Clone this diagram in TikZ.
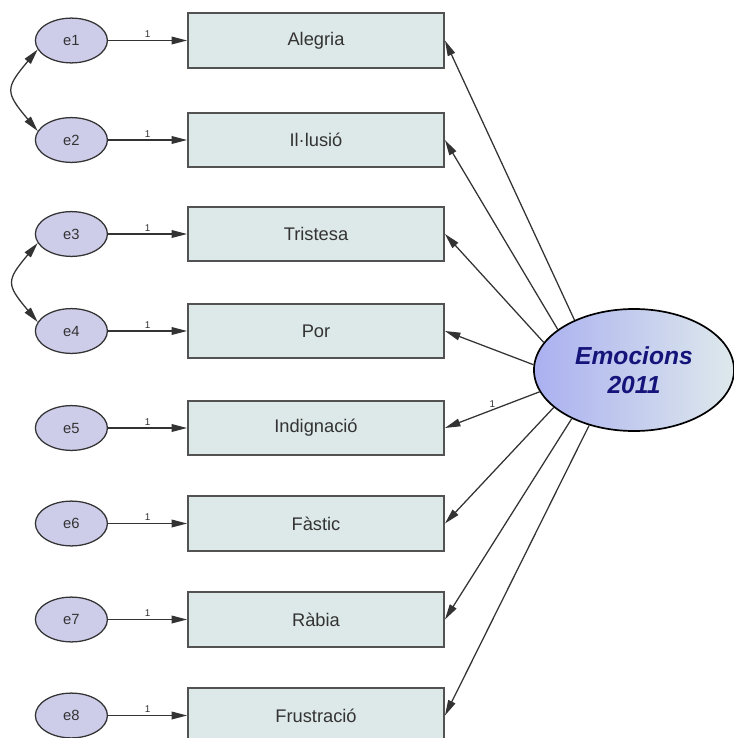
\documentclass[tikz,border=0pt]{standalone}
\usepackage{fontspec}
\setmainfont{Liberation Sans}
\usepackage{tikz}
\usetikzlibrary{arrows.meta,shapes.geometric,positioning}
\usepackage{xcolor}
\definecolor{boxfill}{HTML}{DDE8E8}
\definecolor{errfill}{HTML}{CDCDEA}
\definecolor{latleft}{HTML}{AAB0F0}
\definecolor{latright}{HTML}{DEE9EC}
\definecolor{latext}{HTML}{14147A}
\definecolor{edge}{HTML}{333333}

\begin{document}
\begin{tikzpicture}[x=0.025cm, y=-0.025cm,
    >={Triangle[length=11pt,width=5.5pt]},
    errvar/.style={ellipse, draw=edge, line width=0.9pt, fill=errfill, minimum width=1.8cm, minimum height=1.12cm, inner sep=0pt, text=edge, font=\fontsize{10.5}{12}\selectfont},
    obsbox/.style={rectangle, draw=edge!85, line width=1.3pt, fill=boxfill, minimum width=6.4cm, minimum height=1.36cm, text=edge, font=\fontsize{13}{15}\selectfont},
    latent/.style={ellipse, draw=black, line width=1.2pt, left color=latleft, right color=latright, minimum width=5cm, minimum height=3.05cm, inner sep=0pt, align=center, text=latext, font=\fontsize{17.5}{21}\selectfont\bfseries\itshape},
    errarrow/.style={->, draw=edge, line width=0.9pt},
    loadarrow/.style={->, draw=edge, line width=0.9pt},
    one/.style={font=\fontsize{7}{8}\selectfont, text=edge, inner sep=1.5pt}
]
    \useasboundingbox (0,0) rectangle (734,738);
    \clip (0,0) rectangle (734,738);

    % Observed variables
    \node[obsbox] (alegria) at (316, 40.5) {Alegria};
    \node[obsbox] (illusio) at (316, 140) {Il·lusió};
    \node[obsbox] (tristesa) at (316, 234) {Tristesa};
    \node[obsbox] (por) at (316, 331) {Por};
    \node[obsbox] (indignacio) at (316, 428) {Indignació};
    \node[obsbox] (fastic) at (316, 523.5) {Fàstic};
    \node[obsbox] (rabia) at (316, 619.5) {Ràbia};
    \node[obsbox] (frustracio) at (316, 715.5) {Frustració};

    % Error terms
    \node[errvar, left=1.975cm of alegria] (e1) {e1};
    \node[errvar, left=1.975cm of illusio] (e2) {e2};
    \node[errvar, left=1.975cm of tristesa] (e3) {e3};
    \node[errvar, left=1.975cm of por] (e4) {e4};
    \node[errvar, left=1.975cm of indignacio] (e5) {e5};
    \node[errvar, left=1.975cm of fastic] (e6) {e6};
    \node[errvar, left=1.975cm of rabia] (e7) {e7};
    \node[errvar, left=1.975cm of frustracio] (e8) {e8};

    \draw[errarrow] (e1) -- node[one, above] {1} (alegria);
    \draw[errarrow] (e2) -- node[one, above] {1} (illusio);
    \draw[errarrow] (e3) -- node[one, above] {1} (tristesa);
    \draw[errarrow] (e4) -- node[one, above] {1} (por);
    \draw[errarrow] (e5) -- node[one, above] {1} (indignacio);
    \draw[errarrow] (e6) -- node[one, above] {1} (fastic);
    \draw[errarrow] (e7) -- node[one, above] {1} (rabia);
    \draw[errarrow] (e8) -- node[one, above] {1} (frustracio);

    % Covariances
    \draw[<->, draw=edge, line width=0.9pt] (e1.195) to[out=230, in=130, looseness=1.6] (e2.165);
    \draw[<->, draw=edge, line width=0.9pt] (e3.195) to[out=230, in=130, looseness=1.6] (e4.165);

    % Latent factor
    \node[latent] (emocions) at (634, 370) {Emocions\\2011};

    \draw[loadarrow] (emocions.140) -- (alegria.east);
    \draw[loadarrow] (emocions.152) -- (illusio.east);
    \draw[loadarrow] (emocions.163.5) -- (tristesa.east);
    \draw[loadarrow] (emocions.177.7) -- (por.east);
    \draw[loadarrow] (emocions.193) -- node[one, above] {1} (indignacio.east);
    \draw[loadarrow] (emocions.205.7) -- (fastic.east);
    \draw[loadarrow] (emocions.218) -- (rabia.east);
    \draw[loadarrow] (emocions.231) -- (frustracio.east);
\end{tikzpicture}
\end{document}
